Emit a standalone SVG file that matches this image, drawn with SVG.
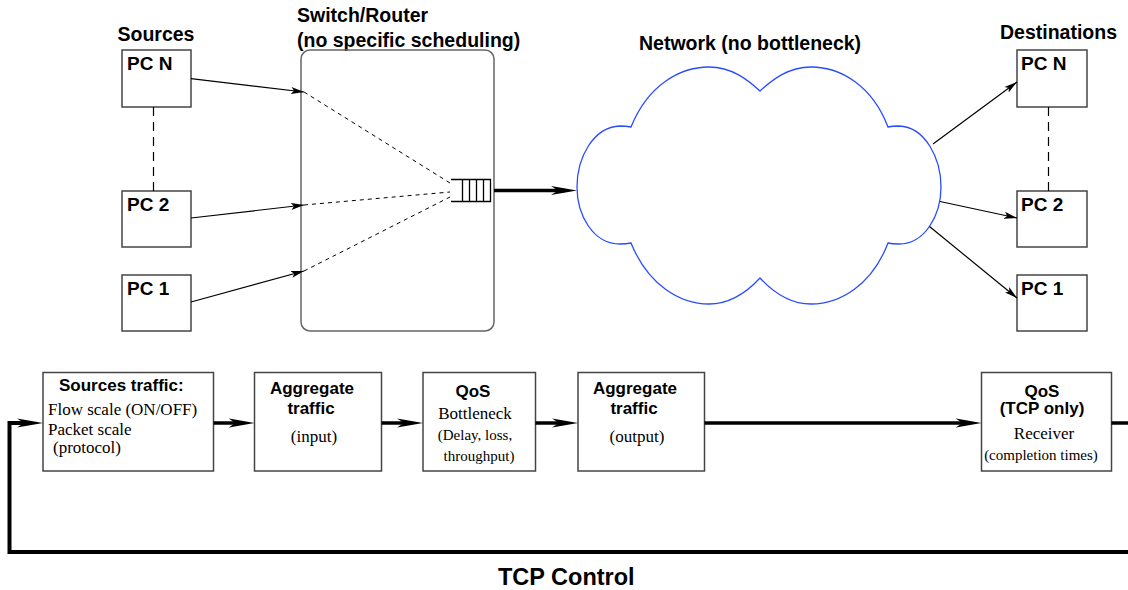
<svg xmlns="http://www.w3.org/2000/svg" width="1128" height="590" viewBox="0 0 1128 590">
<defs>
<style>
.bx{fill:#fff;stroke:#444;stroke-width:1.5}
.sw{fill:none;stroke:#666;stroke-width:1.5}
.hb{font-family:"Liberation Sans",Arial,sans-serif;font-weight:bold;fill:#000}
.sf{font-family:"Liberation Serif","Times New Roman",serif;fill:#000}
.thin{fill:none;stroke:#000;stroke-width:1.2}
.dash{fill:none;stroke:#000;stroke-width:1;stroke-dasharray:4 4}
.vd{fill:none;stroke:#000;stroke-width:1.2;stroke-dasharray:9 6}
.thick{fill:none;stroke:#000;stroke-width:3.5}
.big{fill:none;stroke:#000;stroke-width:4}
</style>
<marker id="ah" viewBox="0 0 13 8" markerWidth="13" markerHeight="8" refX="13" refY="4" orient="auto" markerUnits="userSpaceOnUse">
<path d="M0,0.5 L13,4 L0,7.5 L3,4 Z" fill="#000"/>
</marker>
<marker id="AH" viewBox="0 0 26 10" markerWidth="26" markerHeight="10" refX="14" refY="5" orient="auto" markerUnits="userSpaceOnUse">
<path d="M0,0.5 L26,5 L0,9.5 L7,5 Z" fill="#000"/>
</marker>
</defs>
<rect width="1128" height="590" fill="#fff"/>

<g id="labels">
<text class="hb" x="117.5" y="41" font-size="19.5">Sources</text>
<text class="hb" x="297" y="22" font-size="19.5">Switch/Router</text>
<text class="hb" x="297" y="47" font-size="19.5">(no specific scheduling)</text>
<text class="hb" x="639" y="50" font-size="19.5">Network (no bottleneck)</text>
<text class="hb" x="1000" y="39" font-size="19.5">Destinations</text>
<text class="hb" x="498" y="585" font-size="23.5">TCP Control</text>
</g>

<g id="switch">
<rect class="sw" x="301" y="50" width="193" height="281" rx="9"/>
</g>
<g id="queue">
<path d="M451,179.5 H490.5 V201.5 H451 M462.5,179.5 V201.5 M469.5,179.5 V201.5 M476.5,179.5 V201.5 M483.5,179.5 V201.5" fill="none" stroke="#000" stroke-width="1.3"/>
</g>

<g id="cloud">
<path d="M760,91 C748,80 732,67 709,67 C680,67 648,85 631,127 C626,126 622,126 620,126 C593,127 577,158 577,187 C577,215 593,244 620,244 C622,244 626,244 631,243 C648,285 680,304 709,304 C732,304 748,291 760,278 C772,291 788,304 811,304 C840,304 872,285 888,243 C892,244 896,244 899,244 C925,244 941,215 941,187 C941,158 925,127 899,126 C896,126 892,126 888,127 C872,85 840,67 811,67 C788,67 772,80 760,91 Z" fill="none" stroke="#2a4cff" stroke-width="1.3"/>
</g>

<g id="src-pcn"><rect class="bx" x="122" y="50" width="69" height="57"/><text class="hb" x="127" y="70" font-size="19">PC N</text></g>
<g id="src-pc2"><rect class="bx" x="122" y="191" width="69" height="56"/><text class="hb" x="127" y="211" font-size="19">PC 2</text></g>
<g id="src-pc1"><rect class="bx" x="122" y="275" width="69" height="56"/><text class="hb" x="127" y="295" font-size="19">PC 1</text></g>

<g id="dst-pcn"><rect class="bx" x="1017" y="50" width="70" height="57"/><text class="hb" x="1021" y="70" font-size="19">PC N</text></g>
<g id="dst-pc2"><rect class="bx" x="1017" y="191" width="70" height="56"/><text class="hb" x="1021" y="211" font-size="19">PC 2</text></g>
<g id="dst-pc1"><rect class="bx" x="1017" y="275" width="70" height="56"/><text class="hb" x="1021" y="295" font-size="19">PC 1</text></g>

<g id="b-sources"><rect class="bx" x="43" y="372.5" width="170.5" height="98.5"/>
<text class="hb" x="59" y="391" font-size="17">Sources traffic:</text>
<text class="sf" x="48" y="415" font-size="17">Flow scale (ON/OFF)</text>
<text class="sf" x="48" y="435" font-size="17">Packet scale</text>
<text class="sf" x="53" y="453" font-size="17">(protocol)</text></g>

<g id="b-agg-in"><rect class="bx" x="254.5" y="372.5" width="127" height="98.5"/>
<text class="hb" x="312" y="394" font-size="17" text-anchor="middle">Aggregate</text>
<text class="hb" x="311" y="414" font-size="17" text-anchor="middle">traffic</text>
<text class="sf" x="314" y="442" font-size="17" text-anchor="middle">(input)</text></g>

<g id="b-qos"><rect class="bx" x="423" y="372.5" width="112.5" height="98.5"/>
<text class="hb" x="473" y="397" font-size="17" text-anchor="middle">QoS</text>
<text class="sf" x="475" y="419" font-size="17" text-anchor="middle">Bottleneck</text>
<text class="sf" x="475" y="440" font-size="15" text-anchor="middle">(Delay, loss,</text>
<text class="sf" x="479" y="461" font-size="15" text-anchor="middle">throughput)</text></g>

<g id="b-agg-out"><rect class="bx" x="578" y="372.5" width="126.5" height="98.5"/>
<text class="hb" x="635" y="394" font-size="17" text-anchor="middle">Aggregate</text>
<text class="hb" x="634" y="414" font-size="17" text-anchor="middle">traffic</text>
<text class="sf" x="637" y="442" font-size="17" text-anchor="middle">(output)</text></g>

<g id="b-qos-tcp"><rect class="bx" x="981.5" y="372.5" width="130" height="98.5"/>
<text class="hb" x="1042" y="397" font-size="17" text-anchor="middle">QoS</text>
<text class="hb" x="1042" y="414" font-size="17" text-anchor="middle">(TCP only)</text>
<text class="sf" x="1044" y="439" font-size="17" text-anchor="middle">Receiver</text>
<text class="sf" x="1041" y="460" font-size="15" text-anchor="middle">(completion times)</text></g>

<g id="connectors">
<line class="vd" x1="153.5" y1="107" x2="153.5" y2="191"/>
<line class="vd" x1="1048.5" y1="107" x2="1048.5" y2="191"/>
<line class="thin" x1="191" y1="78.7" x2="304" y2="92" marker-end="url(#ah)"/>
<line class="thin" x1="191" y1="218" x2="304" y2="205" marker-end="url(#ah)"/>
<line class="thin" x1="191" y1="302" x2="304" y2="271" marker-end="url(#ah)"/>
<line class="dash" x1="304" y1="92" x2="450" y2="183"/>
<line class="dash" x1="304" y1="205" x2="450" y2="192"/>
<line class="dash" x1="304" y1="271" x2="450" y2="197"/>
<line class="thick" x1="494" y1="190.5" x2="565" y2="190.5" marker-end="url(#AH)"/>
<line class="thin" x1="933" y1="144" x2="1017" y2="82" marker-end="url(#ah)"/>
<line class="thin" x1="940" y1="201.5" x2="1017" y2="218" marker-end="url(#ah)"/>
<line class="thin" x1="929.5" y1="226.5" x2="1017" y2="298" marker-end="url(#ah)"/>
<line class="thick" x1="213.5" y1="423" x2="242.5" y2="423" marker-end="url(#AH)"/>
<line class="thick" x1="381.5" y1="423" x2="411" y2="423" marker-end="url(#AH)"/>
<line class="thick" x1="535.5" y1="423" x2="566" y2="423" marker-end="url(#AH)"/>
<line class="thick" x1="704.5" y1="423" x2="969.5" y2="423" marker-end="url(#AH)"/>
<line class="thick" x1="1111.5" y1="423" x2="1128" y2="423"/>
<path class="big" d="M1128,552 H9.5 V423 H31" marker-end="url(#AH)"/>
</g>
</svg>
